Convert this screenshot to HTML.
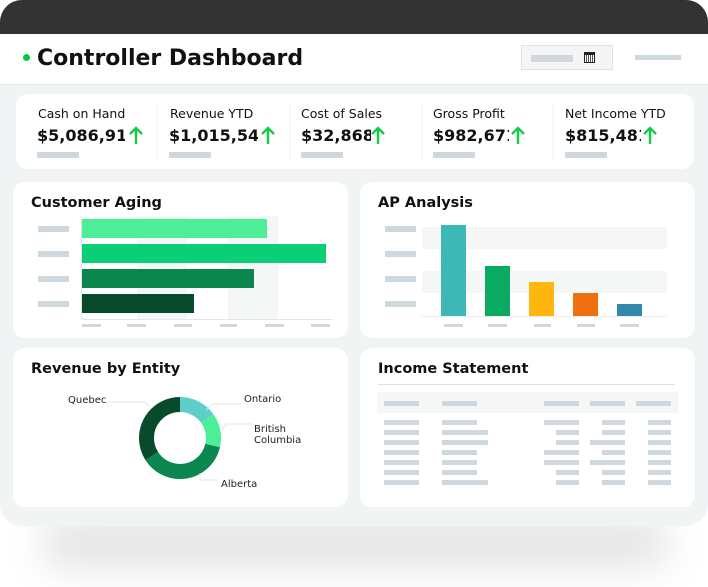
<!DOCTYPE html>
<html><head><style>
*{margin:0;padding:0;box-sizing:border-box}
body{width:708px;height:587px;background:#fff;position:relative;overflow:hidden;font-family:"DejaVu Sans","Liberation Sans",sans-serif}
.abs{position:absolute}
.g{position:absolute;background:#cfd8dc;height:6px}
.card{position:absolute;background:#fff;border-radius:12px}
.t{position:absolute;font-weight:bold;font-size:14.5px;color:#111}
</style></head><body>
<div class="abs" style="left:40px;top:515px;width:630px;height:55px;background:#e6e6e6;filter:blur(18px);border-radius:30px"></div>
<div class="abs" style="left:0;top:0;width:708px;height:526px;background:#f1f4f5;border-radius:22px;overflow:hidden">
 <div class="abs" style="left:0;top:0;width:708px;height:34px;background:#333"></div>
 <div class="abs" style="left:0;top:34px;width:708px;height:51px;background:#fff;border-bottom:1px solid #e3e7e9"></div>
</div>
<div class="abs" style="left:23px;top:54px;width:7px;height:7px;border-radius:50%;background:#00cc44"></div>
<div class="abs" style="left:37px;top:46px;font-size:22px;font-weight:bold;color:#111">Controller Dashboard</div>
<div class="abs" style="left:521px;top:45px;width:92px;height:25px;background:#f4f5f5;border:1px solid #dde3e6"></div>
<div class="g" style="left:531px;top:55px;width:42px;height:7px"></div>
<div class="abs" style="left:584px;top:52px;width:11px;height:11px;border:1.5px solid #222;border-top-width:3px;background:repeating-linear-gradient(90deg,#fff 0 1px,#555 1px 2px)"></div>
<div class="g" style="left:635px;top:55px;width:46px;height:5px"></div>

<div class="card" style="left:16px;top:94px;width:678px;height:75px"></div>
<div class="abs" style="left:38px;top:106px;font-size:12.5px;color:#111">Cash on Hand</div>
<div class="abs" style="left:170px;top:106px;font-size:12.5px;color:#111">Revenue YTD</div>
<div class="abs" style="left:301px;top:106px;font-size:12.5px;color:#111">Cost of Sales</div>
<div class="abs" style="left:433px;top:106px;font-size:12.5px;color:#111">Gross Profit</div>
<div class="abs" style="left:565px;top:106px;font-size:12.5px;color:#111">Net Income YTD</div>
<div class="abs" style="left:37px;top:126px;width:88px;overflow:hidden;white-space:nowrap;font-size:16px;font-weight:bold;color:#111">$5,086,917</div>
<div class="abs" style="left:169px;top:126px;width:89px;overflow:hidden;white-space:nowrap;font-size:16px;font-weight:bold;color:#111">$1,015,54</div>
<div class="abs" style="left:301px;top:126px;width:70px;overflow:hidden;white-space:nowrap;font-size:16px;font-weight:bold;color:#111">$32,868</div>
<div class="abs" style="left:433px;top:126px;width:76px;overflow:hidden;white-space:nowrap;font-size:16px;font-weight:bold;color:#111">$982,671</div>
<div class="abs" style="left:565px;top:126px;width:76px;overflow:hidden;white-space:nowrap;font-size:16px;font-weight:bold;color:#111">$815,481</div>
<svg class="abs" style="left:0;top:0" width="708" height="587">
 <g stroke="#11cc44" stroke-width="2.4" fill="none">
  <path d="M136 144V128M130 134l6-6 6 6"/><path d="M268 144V128M262 134l6-6 6 6"/><path d="M378 144V128M372 134l6-6 6 6"/><path d="M518 144V128M512 134l6-6 6 6"/><path d="M650 144V128M644 134l6-6 6 6"/>
 </g>
 <g fill="#cfd8dc"><rect x="37" y="152" width="42" height="6"/><rect x="169" y="152" width="42" height="6"/><rect x="301" y="152" width="42" height="6"/><rect x="433" y="152" width="42" height="6"/><rect x="565" y="152" width="42" height="6"/></g>
 <g stroke="#eceff0"><path d="M157 104v56M290 104v56M422 104v56M553 104v56"/></g>
</svg>

<div class="card" style="left:13px;top:182px;width:335px;height:156px"></div>
<div class="card" style="left:360px;top:182px;width:335px;height:156px"></div>
<div class="card" style="left:13px;top:348px;width:335px;height:159px"></div>
<div class="card" style="left:360px;top:348px;width:335px;height:159px"></div>
<div class="t" style="left:31px;top:195px">Customer Aging</div>
<div class="t" style="left:378px;top:195px">AP Analysis</div>
<div class="t" style="left:31px;top:361px">Revenue by Entity</div>
<div class="t" style="left:378px;top:361px">Income Statement</div>

<svg class="abs" style="left:0;top:0" width="708" height="587">
 <rect x="137" y="216" width="50" height="103" fill="#f5f6f6"/><rect x="228" y="216" width="50" height="103" fill="#f5f6f6"/>
 <path d="M81.5 216v103.5H333" stroke="#e2e6e8" fill="none"/>
 <rect x="82" y="219" width="185" height="19" fill="#4cef95"/>
 <rect x="82" y="244" width="244" height="19" fill="#0acf77"/>
 <rect x="82" y="269" width="172" height="19" fill="#0a874e"/>
 <rect x="82" y="294" width="112" height="19" fill="#084b2c"/>
 <g fill="#cfd8dc">
  <rect x="38" y="226" width="31" height="6"/><rect x="38" y="251" width="31" height="6"/><rect x="38" y="276" width="31" height="6"/><rect x="38" y="301" width="31" height="6"/>
  <rect x="82" y="324" width="19" height="3"/><rect x="127" y="324" width="19" height="3"/><rect x="174" y="324" width="18" height="3"/><rect x="220" y="324" width="17" height="3"/><rect x="265" y="324" width="19" height="3"/><rect x="311" y="324" width="19" height="3"/>
 </g>
 <rect x="422" y="227" width="245" height="22" fill="#f5f6f6"/><rect x="422" y="271" width="245" height="22" fill="#f5f6f6"/>
 <path d="M422 316.5h245" stroke="#e8ecee"/>
 <rect x="441" y="225" width="25" height="91" fill="#3db8b7"/>
 <rect x="485" y="266" width="25" height="50" fill="#0aab61"/>
 <rect x="529" y="282" width="25" height="34" fill="#ffb70f"/>
 <rect x="573" y="293" width="25" height="23" fill="#ef700f"/>
 <rect x="617" y="304" width="25" height="12" fill="#3488ad"/>
 <g fill="#cfd8dc">
  <rect x="385" y="226" width="31" height="6"/><rect x="385" y="251" width="31" height="6"/><rect x="385" y="276" width="31" height="6"/><rect x="385" y="301" width="31" height="6"/>
  <rect x="444" y="324" width="19" height="3"/><rect x="488" y="324" width="19" height="3"/><rect x="534" y="324" width="17" height="3"/><rect x="577" y="324" width="18" height="3"/><rect x="620" y="324" width="19" height="3"/>
 </g>
 <g transform="translate(180 438) rotate(-90)" fill="none" stroke-width="15">
  <circle r="33.5" stroke="#5ecec9" stroke-dasharray="31.6 210.5"/>
  <circle r="33.5" stroke="#4cef95" stroke-dasharray="0 31.6 28.6 210.5"/>
  <circle r="33.5" stroke="#0a874e" stroke-dasharray="0 60.2 78.4 210.5"/>
  <circle r="33.5" stroke="#084b2c" stroke-dasharray="0 138.6 71.9 210.5"/>
 </g>
 <g stroke="#e0e4e6" fill="none">
  <path d="M105 402h40l5 5"/><path d="M206 410l7-6h28"/><path d="M222 430l4-6h26"/><path d="M200 473v7h18"/>
 </g>
 <g font-size="10" fill="#222" font-family="DejaVu Sans,sans-serif">
  <text x="68" y="403">Quebec</text><text x="244" y="402">Ontario</text><text x="254" y="432">British</text><text x="254" y="443">Columbia</text><text x="221" y="487">Alberta</text>
 </g>
 <path d="M378 384.5h297" stroke="#dde1e4"/>
 <rect x="377" y="392" width="301" height="21" fill="#f5f6f6"/>
 <g fill="#cfd8dc">
  <rect x="384" y="401" width="35" height="5"/><rect x="442" y="401" width="35" height="5"/><rect x="544" y="401" width="35" height="5"/><rect x="590" y="401" width="35" height="5"/><rect x="636" y="401" width="35" height="5"/>
  <rect x="384" y="420" width="35" height="5"/><rect x="442" y="420" width="35" height="5"/><rect x="544" y="420" width="35" height="5"/><rect x="602" y="420" width="23" height="5"/><rect x="648" y="420" width="23" height="5"/>
  <rect x="384" y="430" width="35" height="5"/><rect x="442" y="430" width="46" height="5"/><rect x="556" y="430" width="23" height="5"/><rect x="602" y="430" width="23" height="5"/><rect x="648" y="430" width="23" height="5"/>
  <rect x="384" y="440" width="35" height="5"/><rect x="442" y="440" width="46" height="5"/><rect x="556" y="440" width="23" height="5"/><rect x="590" y="440" width="35" height="5"/><rect x="648" y="440" width="23" height="5"/>
  <rect x="384" y="450" width="35" height="5"/><rect x="442" y="450" width="35" height="5"/><rect x="544" y="450" width="35" height="5"/><rect x="602" y="450" width="23" height="5"/><rect x="648" y="450" width="23" height="5"/>
  <rect x="384" y="460" width="35" height="5"/><rect x="442" y="460" width="35" height="5"/><rect x="544" y="460" width="35" height="5"/><rect x="590" y="460" width="35" height="5"/><rect x="648" y="460" width="23" height="5"/>
  <rect x="384" y="470" width="35" height="5"/><rect x="442" y="470" width="35" height="5"/><rect x="556" y="470" width="23" height="5"/><rect x="602" y="470" width="23" height="5"/><rect x="648" y="470" width="23" height="5"/>
  <rect x="384" y="480" width="35" height="5"/><rect x="442" y="480" width="46" height="5"/><rect x="556" y="480" width="23" height="5"/><rect x="602" y="480" width="23" height="5"/><rect x="648" y="480" width="23" height="5"/>
 </g>
</svg>
</body></html>
